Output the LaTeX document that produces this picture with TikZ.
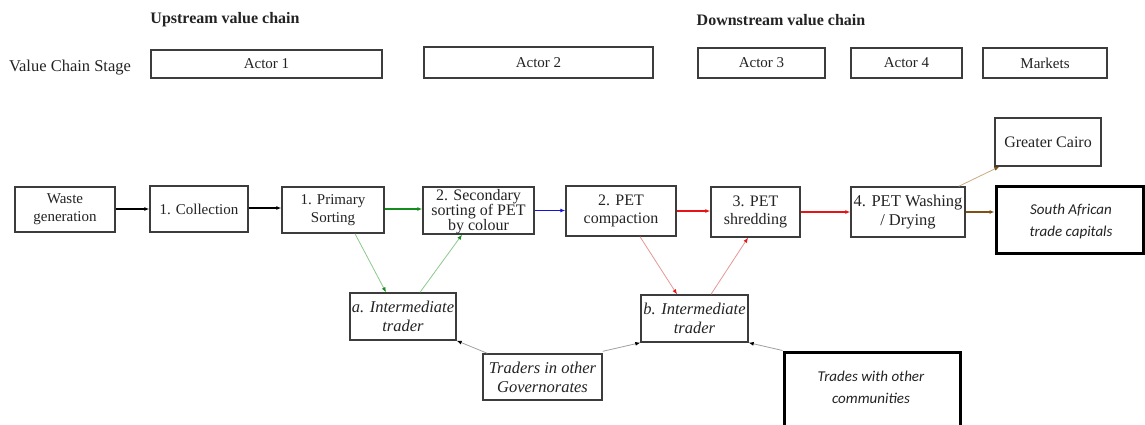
\documentclass[tikz,border=0pt]{standalone}
\usepackage{fontspec}
\setmainfont{Liberation Serif}
\newfontfamily\calfont{Carlito}
\usetikzlibrary{arrows.meta}
\definecolor{dgreen}{RGB}{20,140,30}
\definecolor{lgreen}{RGB}{140,200,140}
\definecolor{dblue}{RGB}{20,20,220}
\definecolor{dred}{RGB}{230,20,20}
\definecolor{lred}{RGB}{230,150,150}
\definecolor{brn}{RGB}{130,80,20}
\definecolor{tanc}{RGB}{200,170,130}
\definecolor{gry}{RGB}{160,160,160}
\definecolor{bord}{RGB}{60,60,60}
\definecolor{txt}{RGB}{35,35,35}
\tikzset{
  box/.style={draw=bord, line width=1.4pt, fill=white, inner sep=0pt, align=center,
    font=\fontsize{15}{18}\selectfont, text=txt},
  bigbox/.style={box, font=\fontsize{16}{18}\selectfont},
  itbox/.style={box, font=\fontsize{16.5}{19}\selectfont\itshape},
  thickbox/.style={draw=black, line width=3pt, fill=white, inner sep=0pt, align=center,
    font=\fontsize{15}{22}\selectfont\calfont\itshape, text=txt},
  lbl/.style={inner sep=0pt, font=\fontsize{16.5}{18}\selectfont, text=txt},
  arr/.style={line width=1.3pt, -{Latex[length=5pt,width=4pt]}},
  thinarr/.style={line width=0.8pt, -{Latex[length=5pt,width=4pt,color=#1]}},
}
\begin{document}
\begin{tikzpicture}[x=1pt,y=-1pt]
\useasboundingbox (0,0) rectangle (1145,424);
\clip (0,0) rectangle (1145,424);
% headers
\node[lbl, font=\fontsize{16}{18}\selectfont\bfseries] (up) at (225,20) {Upstream value chain};
\node[lbl, font=\fontsize{16}{18}\selectfont\bfseries] (down) at (781,20) {Downstream value chain};
\node[lbl] (vcs) at (70,68) {Value Chain Stage};
\node[box, minimum width=231, minimum height=28] (a1) at (266.5,64) {Actor 1};
\node[box, minimum width=229, minimum height=31] (a2) at (538.5,62.5) {Actor 2};
\node[box, minimum width=127, minimum height=30] (a3) at (761.5,63) {Actor 3};
\node[box, minimum width=111, minimum height=30] (a4) at (906.5,63) {Actor 4};
\node[box, minimum width=124, minimum height=30] (mk) at (1045,63) {Markets};
% main chain
\node[box, minimum width=100, minimum height=45] (wg) at (65,209.5) {Waste\\generation};
\node[box, minimum width=98, minimum height=46] (col) at (199,209) {1. Collection};
\node[box, minimum width=102, minimum height=46] (ps) at (333,210) {1. Primary\\Sorting};
\node[bigbox, minimum width=111, minimum height=47] (ss) at (478.5,210.5) {};
\node[lbl, font=\fontsize{16}{15}\selectfont, align=center] (sst) at (478.5,212) {2. Secondary\\sorting of PET\\by colour};
\node[bigbox, minimum width=110, minimum height=50] (pc) at (621,211) {2. PET\\compaction};
\node[bigbox, minimum width=89, minimum height=50] (sh) at (755.5,212) {3. PET\\shredding};
\node[bigbox, minimum width=114, minimum height=50, font=\fontsize{16.5}{19}\selectfont] (wd) at (908,212) {4. PET Washing\\/ Drying};
\node[bigbox, minimum width=106, minimum height=48] (gc) at (1048,142) {Greater Cairo};
\node[thickbox, minimum width=147, minimum height=67] (sa) at (1069.5,219.5) {};
\node[lbl, font=\fontsize{15}{22}\selectfont\calfont\itshape, align=center] (sat) at (1071,221.5) {South African\\trade capitals};
% traders
\node[itbox, minimum width=106, minimum height=47] (ta) at (403,316.5) {a. Intermediate\\trader};
\node[itbox, minimum width=107, minimum height=47] (tb) at (694.5,318.5) {b. Intermediate\\trader};
\node[itbox, minimum width=119, minimum height=46] (tg) at (542.5,377) {Traders in other\\Governorates};
\node[thickbox, minimum width=176, minimum height=100] (tw) at (872,402) {};
\node[lbl, font=\fontsize{15}{22}\selectfont\calfont\itshape, align=center] (twt) at (871,387) {Trades with other\\communities};
% arrows main
\draw[arr, black] ([yshift=0.5pt]wg.east) -- ([yshift=0.5pt]wg.east -| col.west);
\draw[arr, black] ([yshift=1pt]col.east) -- ([yshift=1pt]col.east -| ps.west);
\draw[arr, dgreen] ([yshift=1pt]ps.east) -- ([yshift=1pt]ps.east -| ss.west);
\draw[arr, dblue] (ss.east) -- (ss.east -| pc.west);
\draw[arr, dred] (pc.east) -- (pc.east -| sh.west);
\draw[arr, dred] (sh.east) -- (sh.east -| wd.west);
\draw[arr, brn] (wd.east) -- (wd.east -| sa.west);
\draw[thinarr=brn, tanc] ([xshift=-7pt]wd.north east) -- ([xshift=5pt]gc.south west);
% diagonals
\draw[thinarr=dgreen, lgreen] ([xshift=22pt]ps.south) -- ([xshift=-17pt]ta.north);
\draw[thinarr=dgreen, lgreen] ([xshift=17pt]ta.north) -- ([xshift=-16.5pt]ss.south);
\draw[thinarr=dred, lred] ([xshift=19pt]pc.south) -- ([xshift=-17.5pt]tb.north);
\draw[thinarr=dred, lred] ([xshift=16.5pt]tb.north) -- ([xshift=-7.5pt]sh.south);
\draw[thinarr=black, gry] ([xshift=5pt]tg.north west) -- (ta.south east);
\draw[thinarr=black, gry] ([yshift=2pt]tg.north east) -- (tb.south west);
\draw[thinarr=black, gry] (tw.north west) -- (tb.south east);
\end{tikzpicture}
\end{document}
